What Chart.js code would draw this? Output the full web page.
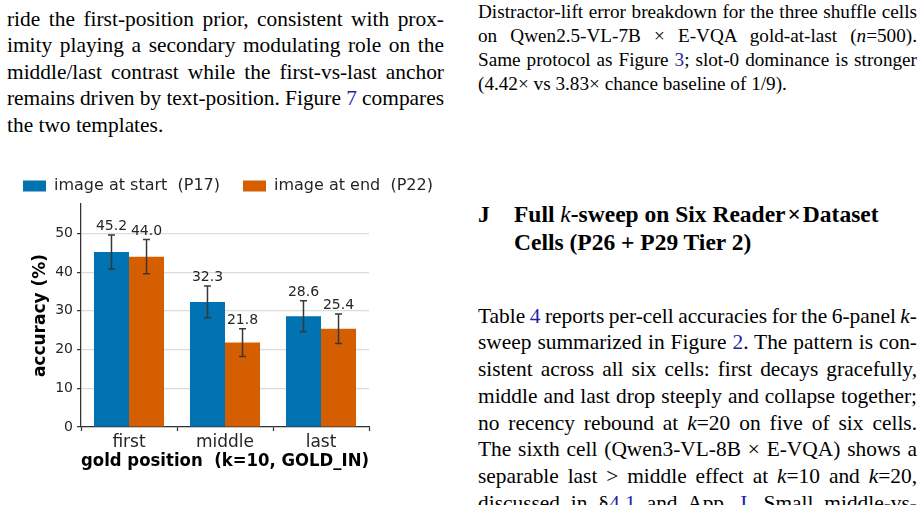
<!doctype html>
<html lang="en">
<head>
<meta charset="utf-8">
<title>gold position chart</title>
<style>
  html, body { margin: 0; padding: 0; background: #fff; }
  body { width: 923px; height: 505px; overflow: hidden; position: relative; font-family: "Liberation Serif", "Times New Roman", serif; color: #000; }
  .col { position: absolute; }
  .ln { text-align: justify; text-align-last: justify; }
  .ln.end { text-align: left; text-align-last: left; }
  a { color: #1f1fa8; text-decoration: none; }
  .body { font-size: 21.4px; }
  .cap { font-size: 19.2px; line-height: 24px; }
  .head { font-size: 23.5px; line-height: 28.3px; font-weight: bold; }
  .head i { font-weight: normal; }
  #chartBox { position: absolute; left: 0px; top: 155px; width: 470px; height: 320px; }
</style>
</head>
<body>

<div class="col body" style="left:7px; top:5.5px; width:437px; line-height:26.5px;">
  <div class="ln">ride the first-position prior, consistent with prox-</div>
  <div class="ln">imity playing a secondary modulating role on the</div>
  <div class="ln">middle/last contrast while the first-vs-last anchor</div>
  <div class="ln">remains driven by text-position. Figure <a>7</a> compares</div>
  <div class="ln end">the two templates.</div>
</div>

<div class="col cap" style="left:478px; top:0px; width:439px;">
  <div class="ln">Distractor-lift error breakdown for the three shuffle cells</div>
  <div class="ln">on Qwen2.5-VL-7B &times; E-VQA gold-at-last (<i>n</i>=500).</div>
  <div class="ln">Same protocol as Figure <a>3</a>; slot-0 dominance is stronger</div>
  <div class="ln end">(4.42&times; vs 3.83&times; chance baseline of 1/9).</div>
</div>

<div class="col head" style="left:478px; top:199.6px;">J</div>
<div class="col head" style="left:514px; top:199.6px; width:403px;">
  <div>Full <i>k</i>-sweep on Six Reader&#8202;&times;&#8202;Dataset</div>
  <div>Cells (P26 + P29 Tier 2)</div>
</div>

<div class="col body" style="left:478px; top:302.7px; width:439px; line-height:26.7px;">
  <div class="ln">Table <a>4</a> reports per-cell accuracies for the 6-panel <i>k</i>-</div>
  <div class="ln">sweep summarized in Figure <a>2</a>. The pattern is con-</div>
  <div class="ln">sistent across all six cells: first decays gracefully,</div>
  <div class="ln">middle and last drop steeply and collapse together;</div>
  <div class="ln">no recency rebound at <i>k</i>=20 on five of six cells.</div>
  <div class="ln">The sixth cell (Qwen3-VL-8B &times; E-VQA) shows a</div>
  <div class="ln">separable last &gt; middle effect at <i>k</i>=10 and <i>k</i>=20,</div>
  <div class="ln">discussed in &sect;<a>4.1</a> and App. <a>I</a>. Small middle-vs-</div>
</div>

<div id="chartBox"><canvas id="goldChart"></canvas></div>

<script>
  // squeeze word spacing on lines that are a bit too long for the column
  document.querySelectorAll('.ln').forEach(el => {
    const w = el.clientWidth;
    const span = document.createElement('span');
    span.innerHTML = el.innerHTML;
    el.innerHTML = '';
    el.appendChild(span);
    el.style.whiteSpace = 'nowrap';
    const natural = span.getBoundingClientRect().width;
    if (natural > w - 0.5) {
      const n = (el.textContent.match(/ /g) || []).length || 1;
      el.style.wordSpacing = ((w - 1 - natural) / n) + 'px';
    } else {
      el.style.whiteSpace = '';
    }
  });
</script>

<script src="https://cdn.jsdelivr.net/npm/chart.js@4.4.2/dist/chart.umd.min.js"></script>
<script>
  const categories = ['first', 'middle', 'last'];
  const seriesNames = ['image at start  (P17)', 'image at end  (P22)'];
  const startAcc = [45.2, 32.3, 28.6];
  const endAcc = [44.0, 21.8, 25.4];
  // 95% CI half widths, n=500
  const startErr = [4.4, 4.1, 4.0];
  const endErr = [4.4, 3.6, 3.8];
  const yTicks = [0, 10, 20, 30, 40, 50];

  const blue = '#0173b2';
  const orange = '#d55e00';
  const dark = '#262626';

  Chart.defaults.font.family = '"DejaVu Sans", sans-serif';
  Chart.defaults.color = dark;

  // error bars + value labels on top of them
  const errorBars = {
    id: 'errorBars',
    afterDatasetsDraw(chart) {
      const ctx = chart.ctx;
      const y = chart.scales.y;
      ctx.save();
      chart.data.datasets.forEach((ds, i) => {
        const meta = chart.getDatasetMeta(i);
        meta.data.forEach((bar, j) => {
          const v = ds.data[j];
          const e = ds.err[j];
          const top = y.getPixelForValue(v + e);
          const bot = y.getPixelForValue(v - e);
          ctx.strokeStyle = '#383838';
          ctx.lineWidth = 1.5;
          ctx.beginPath();
          ctx.moveTo(bar.x, top); ctx.lineTo(bar.x, bot);
          ctx.moveTo(bar.x - 3.5, top); ctx.lineTo(bar.x + 3.5, top);
          ctx.moveTo(bar.x - 3.5, bot); ctx.lineTo(bar.x + 3.5, bot);
          ctx.stroke();
          ctx.fillStyle = dark;
          ctx.font = '14px "DejaVu Sans"';
          ctx.textAlign = 'center';
          ctx.textBaseline = 'alphabetic';
          ctx.fillText(v.toFixed(1), bar.x, top - 5);
        });
      });
      ctx.restore();
    }
  };

  new Chart(document.getElementById('goldChart'), {
    type: 'bar',
    data: {
      labels: categories,
      datasets: [{
        label: seriesNames[0],
        data: startAcc,
        err: startErr,
        backgroundColor: blue,
        categoryPercentage: 0.73,
        barPercentage: 1.0
      }, {
        label: seriesNames[1],
        data: endAcc,
        err: endErr,
        backgroundColor: orange,
        categoryPercentage: 0.73,
        barPercentage: 1.0
      }]
    },
    options: {
      responsive: true,
      maintainAspectRatio: false,
      animation: false,
      layout: { padding: 0 },
      plugins: {
        legend: {
          position: 'top',
          align: 'start',
          labels: {
            boxWidth: 23,
            boxHeight: 11,
            padding: 23,
            color: dark,
            font: { size: 16 }
          }
        },
        tooltip: { enabled: false }
      },
      scales: {
        x: {
          grid: { drawOnChartArea: false, tickLength: 4, tickColor: '#333', tickWidth: 1.25 },
          border: { color: '#333', width: 1.25 },
          ticks: { color: dark, font: { size: 17 }, padding: 1 },
          title: {
            display: true,
            text: 'gold position  (k=10, GOLD_IN)',
            color: '#000',
            font: { size: 17, weight: 'bold' },
            padding: { top: 0, bottom: 3 }
          },
          afterFit: s => { s.height = 48; }
        },
        y: {
          min: 0,
          max: 57.6,
          afterBuildTicks: s => { s.ticks = yTicks.map(v => ({ value: v })); },
          grid: { color: '#dcdcdc', lineWidth: 1.25, tickLength: 4, tickColor: '#333', tickWidth: 1.25 },
          border: { color: '#333', width: 1.25 },
          ticks: { color: dark, font: { size: 14 }, padding: 4 },
          title: {
            display: true,
            text: 'accuracy (%)',
            color: '#000',
            font: { size: 17, weight: 'bold' },
            padding: { top: 30, bottom: 0 }
          },
          afterFit: s => { s.width = 81; }
        },
        // empty right axis, only keeps room to the right of the plot
        pad: {
          type: 'linear',
          position: 'right',
          display: true,
          grid: { display: false },
          border: { display: false },
          ticks: { display: false },
          afterFit: s => { s.width = 101; }
        }
      }
    },
    plugins: [errorBars]
  });
</script>
</body>
</html>
